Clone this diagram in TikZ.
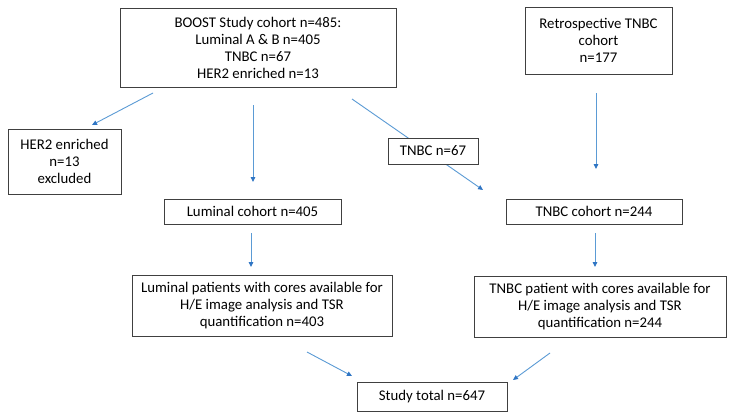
\documentclass[tikz,border=0pt]{standalone}
\usepackage{fontspec}
\setmainfont{Carlito}
\usetikzlibrary{arrows.meta}
\definecolor{arrowblue}{RGB}{91,155,213}
\definecolor{tipblue}{RGB}{47,117,196}
\definecolor{boxline}{RGB}{64,64,64}
\begin{document}
\begin{tikzpicture}[x=1pt,y=-1pt,
  box/.style={draw=boxline,line width=0.8pt,fill=white,align=center,inner sep=0pt,
    font=\fontsize{14.8}{17}\selectfont},
  flow/.style={draw=arrowblue,line width=0.9pt,-{Triangle[length=5pt,width=4.5pt,fill=tipblue,color=tipblue]}}]
\useasboundingbox[fill=white] (0,0) rectangle (731,418);
% arrow endpoints
\coordinate (a1s) at (153,93);  \coordinate (a1e) at (92,125);
\coordinate (a2s) at (253,105); \coordinate (a2e) at (253,182);
\coordinate (a3s) at (352,99);  \coordinate (a3e) at (483,190);
\coordinate (a4s) at (596,93);  \coordinate (a4e) at (596,169);
\coordinate (a5s) at (251,233); \coordinate (a5e) at (251,267);
\coordinate (a6s) at (595,233); \coordinate (a6e) at (595,267);
\coordinate (a7s) at (307,352); \coordinate (a7e) at (352,376);
\coordinate (a8s) at (550,353); \coordinate (a8e) at (513,380);
\draw[flow] (a3s) -- (a3e);
% boxes
\node[box,minimum width=276,minimum height=79] (boost) at (258,47.5)
  {BOOST Study cohort n=485:\\Luminal A \& B n=405\\TNBC n=67\\HER2 enriched n=13};
\node[box,minimum width=147,minimum height=67] (retro) at (598.5,40.5)
  {Retrospective TNBC\\cohort\\n=177};
\node[box,minimum width=113,minimum height=65] (her2) at (64.5,161.5)
  {HER2 enriched\\n=13\\excluded};
\node[box,minimum width=90,minimum height=26] (tn67) at (433,151) {TNBC n=67};
\node[box,minimum width=177,minimum height=25] (lumc) at (252.5,211.5) {Luminal cohort n=405};
\node[box,minimum width=176,minimum height=25] (tnbcc) at (594,211.5) {TNBC cohort n=244};
\node[box,minimum width=260,minimum height=61] (lump) at (262,305.5)
  {Luminal patients with cores available for\\H/E image analysis and TSR\\quantification n=403};
\node[box,minimum width=252,minimum height=61] (tnbcp) at (600,306.5)
  {TNBC patient with cores available for\\H/E image analysis and TSR\\quantification n=244};
\node[box,minimum width=150,minimum height=29] (total) at (432,396.5) {Study total n=647};
% connectors
\draw[flow] (a1s) -- (a1e);
\draw[flow] (a2s) -- (a2e);
\draw[flow] (a4s) -- (a4e);
\draw[flow] (a5s) -- (a5e);
\draw[flow] (a6s) -- (a6e);
\draw[flow] (a7s) -- (a7e);
\draw[flow] (a8s) -- (a8e);
\end{tikzpicture}
\end{document}
